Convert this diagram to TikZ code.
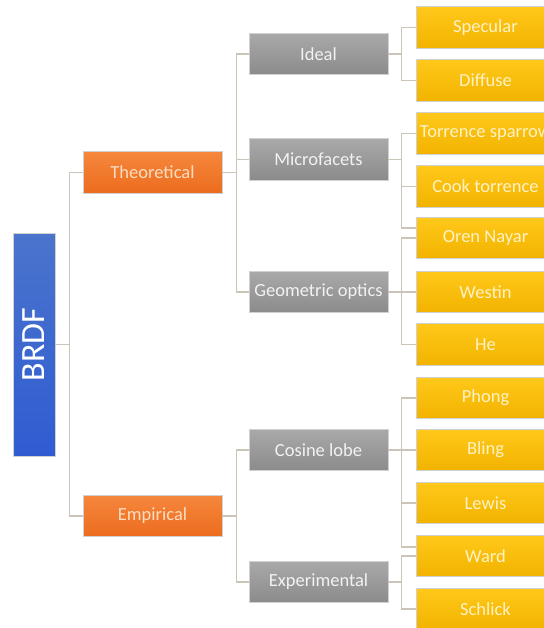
\documentclass[tikz,border=0pt]{standalone}
\usepackage{fontspec}
\setmainfont{Carlito}
\definecolor{rootTop}{HTML}{4B74CC}
\definecolor{rootBot}{HTML}{2F5CD2}
\definecolor{catTop}{HTML}{F5873C}
\definecolor{catBot}{HTML}{EC6C1E}
\definecolor{catText}{HTML}{FCDDC2}
\definecolor{grpTop}{HTML}{A9A9A9}
\definecolor{grpBot}{HTML}{8B8B8B}
\definecolor{grpText}{HTML}{F2F2F2}
\definecolor{leafTop}{HTML}{FFC81A}
\definecolor{leafBot}{HTML}{F2B300}
\definecolor{leafText}{HTML}{FFF2C4}
\definecolor{linkGray}{HTML}{CBC4B9}
\begin{document}
\begin{tikzpicture}[x=1pt,y=-1pt,
  box/.style={draw=black!18,line width=0.6pt,inner sep=0pt,
    minimum width=139pt,minimum height=41.5pt,
    font=\fontsize{18.5}{20}\selectfont},
  rootbox/.style={box,minimum width=42pt,minimum height=223pt,
    top color=rootTop,bottom color=rootBot,text=white,
    font=\fontsize{34}{36}\selectfont},
  catbox/.style={box,top color=catTop,bottom color=catBot,text=catText},
  groupbox/.style={box,top color=grpTop,bottom color=grpBot,text=grpText},
  leafbox/.style={box,top color=leafTop,bottom color=leafBot,text=leafText},
  link/.style={draw=linkGray,line width=1.4pt}]
  \useasboundingbox (0,0) rectangle (543,628);
  % root and first level
  \node[rootbox] (brdf) at (34,344.5) {\rotatebox{90}{BRDF}};
  \node[catbox] (theo) at (152.5,172.5) {Theoretical};
  \node[catbox] (emp) at (152.5,516) {Empirical};
  % second level
  \node[groupbox] (ideal) at (318.5,54) {Ideal};
  \node[groupbox] (micro) at (318.5,159.5) {Microfacets};
  \node[groupbox] (geo) at (318.5,292) {Geometric optics};
  \node[groupbox] (cosine) at (318.5,450) {Cosine lobe};
  \node[groupbox] (expe) at (318.5,582) {Experimental};
  % leaves
  \node[leafbox] (spec) at (485.5,27.5) {Specular};
  \node[leafbox] (diff) at (485.5,80.5) {Diffuse};
  \node[leafbox] (torr) at (485.5,133.5) {Torrence sparrow};
  \node[leafbox] (cook) at (485.5,186.5) {Cook torrence};
  \node[leafbox] (oren) at (485.5,238) {Oren Nayar};
  \node[leafbox] (west) at (485.5,292) {Westin};
  \node[leafbox] (he) at (485.5,344.5) {He};
  \node[leafbox] (phong) at (485.5,398) {Phong};
  \node[leafbox] (bling) at (485.5,450) {Bling};
  \node[leafbox] (lewis) at (485.5,503) {Lewis};
  \node[leafbox] (ward) at (485.5,556) {Ward};
  \node[leafbox] (schlick) at (485.5,609) {Schlick};
  \coordinate (micro3) at (416,228);
  \coordinate (cosine4) at (416,547);
  % connectors
  \draw[link] (brdf.east) -- ++(14,0) |- (theo.west);
  \draw[link] (brdf.east) -- ++(14,0) |- (emp.west);
  \draw[link] (theo.east) -- ++(14,0) |- (ideal.west);
  \draw[link] (theo.east) -- ++(14,0) |- (micro.west);
  \draw[link] (theo.east) -- ++(14,0) |- (geo.west);
  \draw[link] (emp.east) -- ++(14,0) |- (cosine.west);
  \draw[link] (emp.east) -- ++(14,0) |- (expe.west);
  \draw[link] (ideal.east) -- ++(13,0) |- (spec.west);
  \draw[link] (ideal.east) -- ++(13,0) |- (diff.west);
  \draw[link] (micro.east) -- ++(13,0) |- (torr.west);
  \draw[link] (micro.east) -- ++(13,0) |- (cook.west);
  \draw[link] (micro.east) -- ++(13,0) |- (micro3);
  \draw[link] (geo.east) -- ++(13,0) |- (oren.west);
  \draw[link] (geo.east) -- ++(13,0) |- (west.west);
  \draw[link] (geo.east) -- ++(13,0) |- (he.west);
  \draw[link] (cosine.east) -- ++(13,0) |- (phong.west);
  \draw[link] (cosine.east) -- ++(13,0) |- (bling.west);
  \draw[link] (cosine.east) -- ++(13,0) |- (lewis.west);
  \draw[link] (cosine.east) -- ++(13,0) |- (cosine4);
  \draw[link] (expe.east) -- ++(13,0) |- (ward.west);
  \draw[link] (expe.east) -- ++(13,0) |- (schlick.west);
\end{tikzpicture}
\end{document}
